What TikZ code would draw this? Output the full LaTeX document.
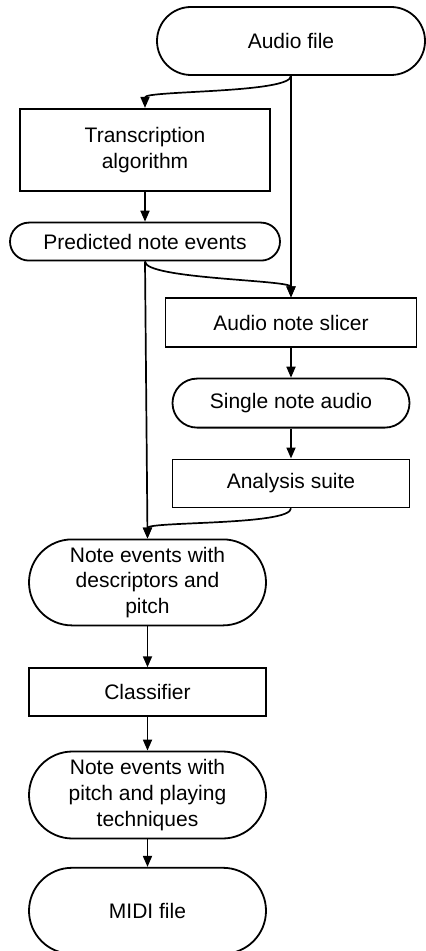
\documentclass[tikz,border=0pt]{standalone}
\usepackage{fontspec}
\setmainfont{Liberation Sans}
\usepackage{tikz}
\usetikzlibrary{arrows.meta, positioning}

\begin{document}
\begin{tikzpicture}[
		box/.style={draw, line width=0.9pt, minimum height=24pt, align=center, font=\fontsize{10.5pt}{12.8pt}\selectfont, inner sep=2pt},
		pill/.style={box, minimum height=#1, rounded corners=#1/2},
		arrow/.style={line width=0.85pt, -{Triangle[length=5.5pt, width=4.5pt]}},
		curved/.style={arrow, out=-90, in=90, looseness=0.3}
	]

	\useasboundingbox (0,0) rectangle (212.5pt,-475.5pt);

	% Nodes
	\node[pill=34pt, minimum width=134pt] (audio) at (145.5pt,-20.5pt) {Audio file};

	\node[box, minimum width=125pt, minimum height=41pt, below=16pt of audio, xshift=-73pt] (trans) {Transcription\\ algorithm};

	\node[pill=19pt, minimum width=135pt, below=15pt of trans] (pred) {Predicted note events};

	\node[box, minimum width=125.5pt, minimum height=24.5pt, below=110.75pt of audio] (slicer) {Audio note slicer};

	\node[pill=24.5pt, minimum width=118.5pt, below=14.75pt of slicer] (single) {Single note audio};

	\node[box, minimum width=118.5pt, below=15pt of single] (suite) {Analysis suite};

	\node[pill=43pt, minimum width=118.5pt, below=138.5pt of pred, xshift=1.25pt] (desc) {Note events with\\ descriptors and\\ pitch};

	\node[box, minimum width=118.5pt, below=20.5pt of desc] (classifier) {Classifier};

	\node[pill=43.5pt, minimum width=118.5pt, below=16.75pt of classifier] (tech) {Note events with\\ pitch and playing\\ techniques};

	\node[pill=43pt, minimum width=118.5pt, below=13.75pt of tech] (midi) {MIDI file};

	% Arrows
	\draw[curved] (audio.south) to (trans.north);
	\draw[arrow] (audio.south) -- (slicer.north);
	\draw[arrow] (trans) -- (pred);
	\draw[curved] (pred.south) to (slicer.north);
	\draw[arrow] (pred.south) -- (desc.north);
	\draw[arrow] (slicer) -- (single);
	\draw[arrow] (single) -- (suite);
	\draw[curved] (suite.south) to (desc.north);
	\draw[arrow] (desc) -- (classifier);
	\draw[arrow] (classifier) -- (tech);
	\draw[arrow] (tech) -- (midi);

\end{tikzpicture}
\end{document}
